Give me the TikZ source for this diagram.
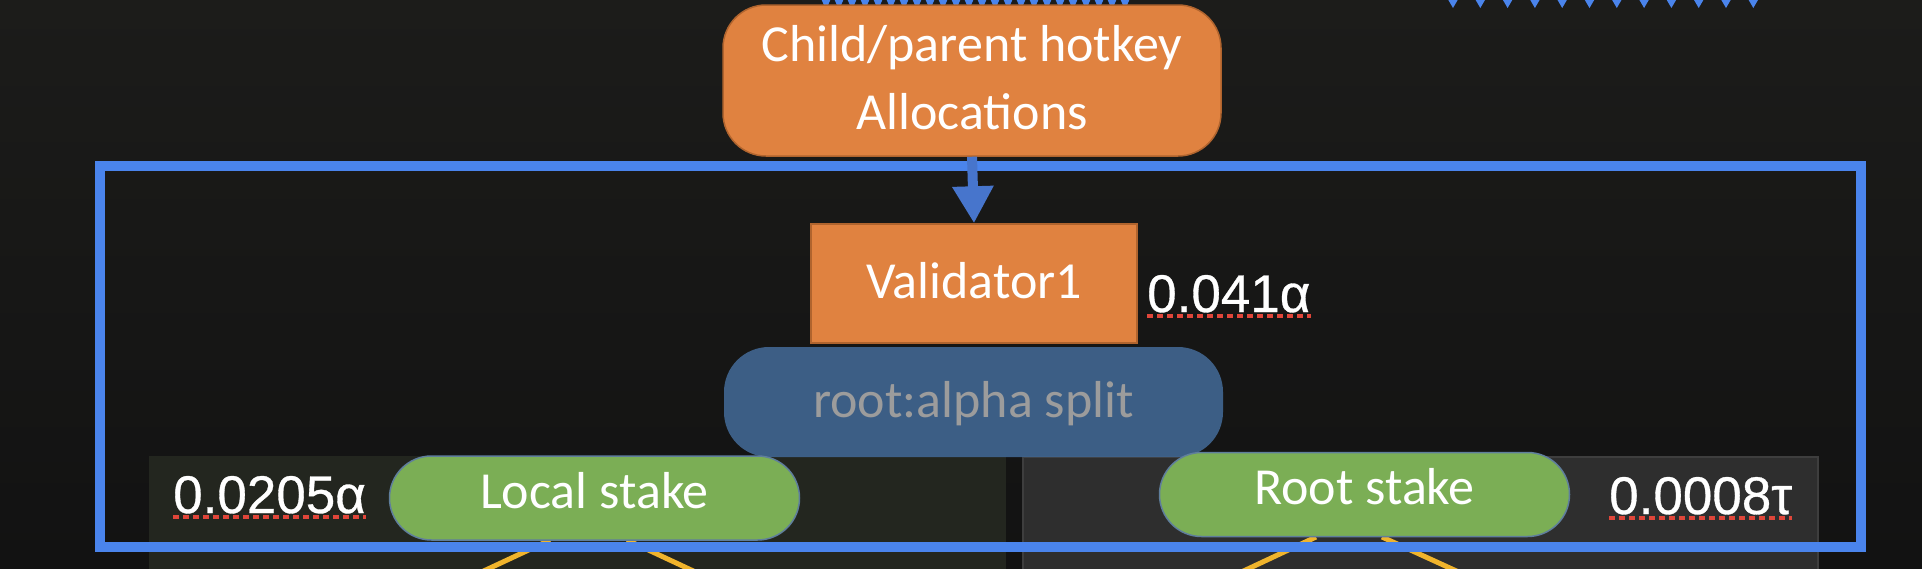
\documentclass[tikz,border=0pt]{standalone}
\usepackage{fontspec}
\setmainfont{Carlito}
\newfontfamily\numfont[FakeBold=0.6]{Liberation Sans}
\usetikzlibrary{arrows.meta}

\definecolor{bgtop}{HTML}{1C1C1A}
\definecolor{bgbot}{HTML}{121212}
\definecolor{orangefill}{HTML}{E08240}
\definecolor{orangeedge}{HTML}{B0642E}
\definecolor{splitblue}{HTML}{40648E}
\definecolor{splittext}{HTML}{9C9C9C}
\definecolor{stakegreen}{HTML}{7BAE55}
\definecolor{pilledge}{HTML}{5F7E9C}
\definecolor{frameblue}{HTML}{4A84EC}
\definecolor{arrowblue}{HTML}{4775CC}
\definecolor{localpanel}{HTML}{23261F}
\definecolor{rootpanel}{HTML}{2E2E2E}
\definecolor{rootedge}{HTML}{3E3E3E}
\definecolor{goldline}{HTML}{F0B42C}
\definecolor{squigred}{HTML}{E0463A}

\begin{document}
\begin{tikzpicture}[x=1pt,y=-1pt,
    orangebox/.style={draw=orangeedge, line width=1.5pt, fill=orangefill, text=white,
        font=\fontsize{52}{68}\selectfont, align=center, inner sep=0pt},
    splitbox/.style={fill=splitblue, fill opacity=0.93, text opacity=1, text=splittext,
        rounded corners=45pt, minimum width=499pt, minimum height=110pt,
        font=\fontsize{52}{62}\selectfont, inner sep=0pt, text depth=6pt},
    stakepill/.style={draw=pilledge, line width=1.5pt, fill=stakegreen, text=white,
        rounded corners=42pt, minimum width=410pt, minimum height=84pt,
        font=\fontsize{52}{62}\selectfont, inner sep=0pt, text depth=16pt},
    amount/.style={text=white, font=\numfont\fontsize{53}{62}\selectfont, inner sep=0pt, anchor=base west},
    squiggle/.style={squigred, line width=4pt, dash pattern=on 6pt off 4pt},
    fanline/.style={goldline, line width=5pt},
    tipblue/.style={fill=frameblue}]
    \useasboundingbox (0,0) rectangle (1922,568);
    \clip (0,0) rectangle (1922,568);
    \fill[top color=bgtop, bottom color=bgbot] (0,0) rectangle (1922,568);

    % arrow tips coming in from above
    \foreach \i in {0,...,23}
        \fill[tipblue] ({826+13*\i-6},-4) -- ({826+13*\i+6},-4) -- ({826+13*\i},10) -- cycle;
    \foreach \i in {0,...,11}
        \fill[tipblue] ({1453+27.3*\i-7},-4) -- ({1453+27.3*\i+7},-4) -- ({1453+27.3*\i},8) -- cycle;

    % stake panels
    \fill[localpanel] (149,456) rectangle (1006,590);
    \filldraw[fill=rootpanel, draw=rootedge, line width=2pt] (1023,457) rectangle (1818,590);

    \node[orangebox, rounded corners=43pt, minimum width=498pt, minimum height=151pt] (alloc) at (972,80.5) {Child/parent hotkey\\Allocations\rule[-6pt]{0pt}{6pt}};
    \node[orangebox, minimum width=326pt, minimum height=119pt, text depth=7pt] (val) at (974,283.5) {Validator1};
    \node[splitbox] (split) at (973.5,402) {root:alpha split};

    \coordinate (localL) at (443,590);
    \coordinate (localR) at (734,590);
    \coordinate (rootL) at (1203,590);
    \coordinate (rootR) at (1498,590);
    \coordinate (localtop) at (594.5,540);
    \coordinate (roottop) at (1364.5,537);
    \draw[fanline] ([xshift=-44.5pt]localtop) -- (localL);
    \draw[fanline] ([xshift=32.5pt]localtop) -- (localR);
    \draw[fanline] ([xshift=-48.5pt]roottop) -- (rootL);
    \draw[fanline] ([xshift=17.5pt]roottop) -- (rootR);

    \node[stakepill] (local) at (594.5,498) {Local stake};
    \node[stakepill] (root) at (1364.5,494.5) {Root stake};

    % subnet frame
    \draw[frameblue, line width=10pt] (100,166) rectangle (1861,547);
    \draw[arrowblue, line width=10pt, -{Triangle[width=39pt,length=37pt]}] (alloc.south) -- (val.north);

    \node[amount] (valamt) at (1147,312) {0.041α};
    \node[amount] (localamt) at (173,513) {0.0205α};
    \node[amount] (rootamt) at (1609,514) {0.0008τ};
    \draw[squiggle] ([yshift=-4pt]valamt.base west) -- ([yshift=-4pt]valamt.base east);
    \draw[squiggle] ([yshift=-4pt]localamt.base west) -- ([yshift=-4pt]localamt.base east);
    \draw[squiggle] ([yshift=-4pt]rootamt.base west) -- ([yshift=-4pt]rootamt.base east);
\end{tikzpicture}
\end{document}
